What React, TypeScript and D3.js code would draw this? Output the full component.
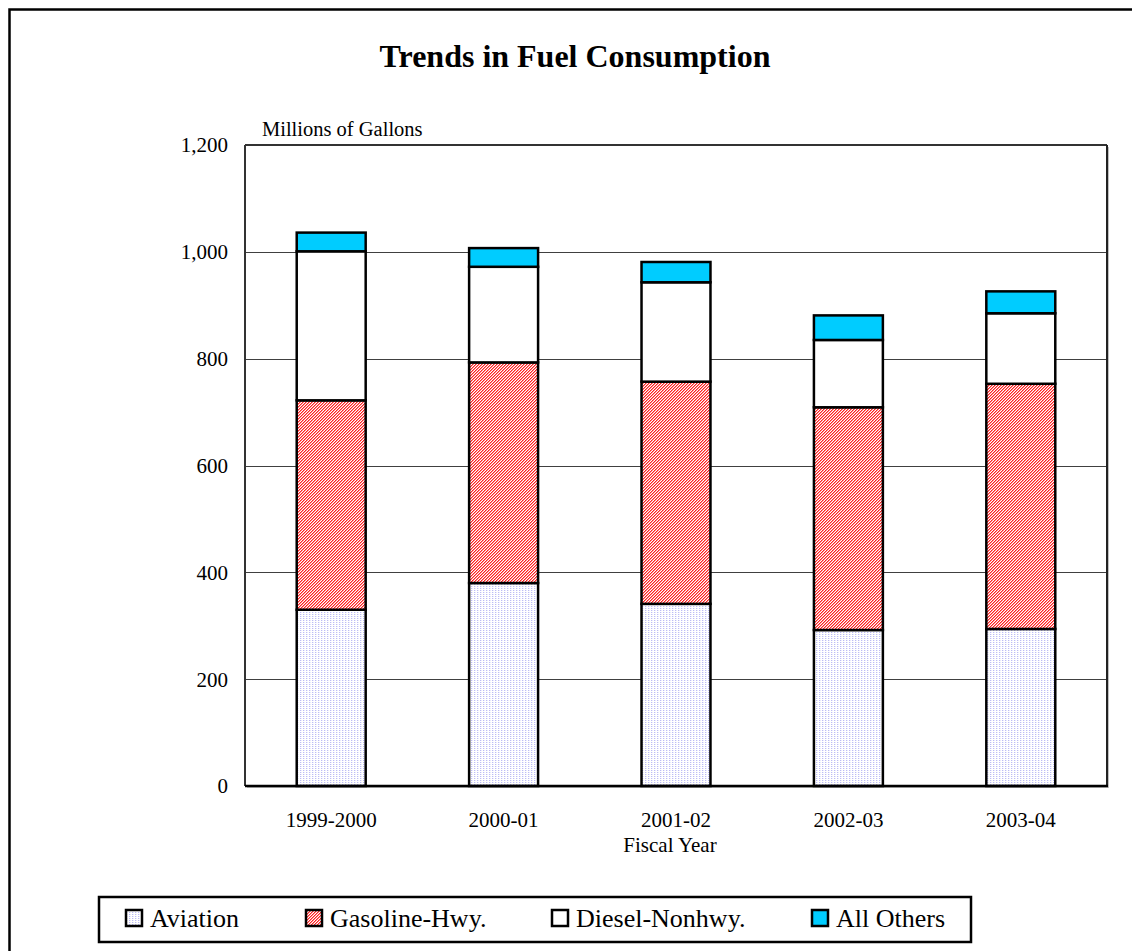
import React from "react";
import * as d3 from "d3";

const categories = ["1999-2000", "2000-01", "2001-02", "2002-03", "2003-04"];
const seriesNames = ["Aviation", "Gasoline-Hwy.", "Diesel-Nonhwy.", "All Others"];
const aviation = [330, 380, 341, 292, 294];
const gasoline = [392, 413, 416, 417, 459];
const diesel = [279, 179, 186, 126, 132];
const allOthers = [35, 35, 38, 46, 41];
const yTicks = [0, 200, 400, 600, 800, 1000, 1200];

const W = 1132;
const H = 951;
const M = { left: 245, right: 1107, top: 145, bottom: 786 };
const FONT = "'Liberation Serif', 'Times New Roman', serif";

const fills = ["url(#patAviation)", "url(#patGas)", "#ffffff", "#00ccff"];

export default function App() {
  const keys = ["aviation", "gasoline", "diesel", "others"];
  const rows = categories.map((c, i) => ({
    cat: c,
    aviation: aviation[i],
    gasoline: gasoline[i],
    diesel: diesel[i],
    others: allOthers[i],
  }));
  const stacked = d3.stack<any>().keys(keys)(rows);
  const x = d3
    .scaleBand<string>()
    .domain(categories)
    .range([M.left, M.right])
    .paddingInner(0.6)
    .paddingOuter(0.3);
  const y = d3.scaleLinear().domain([0, 1200]).range([M.bottom, M.top]);
  const fmt = d3.format(",");

  const gasRed: [number, number][] = [];
  const gasPink: [number, number][] = [];
  for (let r = 0; r < 3; r++) {
    gasRed.push([(2 - r + 3) % 3, r]);
    gasPink.push([(3 - r + 3) % 3, r]);
  }

  const legendX = [125, 305, 551, 811];

  return (
    <svg
      width={W}
      height={H}
      style={{ position: "absolute", left: 0, top: 0, background: "#fff" }}
      fontFamily={FONT}
    >
      <defs>
        <pattern id="patAviation" patternUnits="userSpaceOnUse" width={3} height={2}>
          <rect width={3} height={2} fill="#ffffff" />
          <rect x={0} y={0} width={1} height={1} fill="#bcbcf4" />
          <rect x={1} y={0} width={1} height={1} fill="#eaeafc" />
        </pattern>
        <pattern id="patGas" patternUnits="userSpaceOnUse" width={3} height={3}>
          <rect width={3} height={3} fill="#ffffff" />
          {gasRed.map(([px, py], i) => (
            <rect key={"r" + i} x={px} y={py} width={1} height={1} fill="#ff2020" />
          ))}
          {gasPink.map(([px, py], i) => (
            <rect key={"p" + i} x={px} y={py} width={1} height={1} fill="#ff8a8a" />
          ))}
        </pattern>
      </defs>

      {/* outer frame */}
      <rect x={9.5} y={9.5} width={W + 20} height={H + 20} fill="none" stroke="#000" strokeWidth={2.5} />

      {/* title */}
      <text x={575} y={67} textAnchor="middle" fontSize={32} fontWeight="bold">
        Trends in Fuel Consumption
      </text>

      {/* units label */}
      <text x={262} y={136} fontSize={20.5}>
        Millions of Gallons
      </text>

      {/* plot shadow */}
      <rect x={M.left + 2} y={M.top + 2} width={M.right - M.left} height={M.bottom - M.top} fill="#c0c0c0" />
      <rect x={M.left} y={M.top} width={M.right - M.left} height={M.bottom - M.top} fill="#ffffff" />

      {/* gridlines */}
      {yTicks.slice(1, -1).map((t) => (
        <line key={t} x1={M.left} x2={M.right} y1={Math.round(y(t)) + 0.5} y2={Math.round(y(t)) + 0.5} stroke="#404040" strokeWidth={1} />
      ))}

      {/* bars */}
      {stacked.map((layer, li) => (
        <g key={layer.key}>
          {layer.map((d: any, i: number) => (
            <rect
              key={i}
              x={x(categories[i])!}
              y={y(d[1])}
              width={x.bandwidth()}
              height={y(d[0]) - y(d[1])}
              fill={fills[li]}
              stroke="#000"
              strokeWidth={2.5}
            />
          ))}
        </g>
      ))}

      {/* plot frame */}
      <line x1={M.left} x2={M.left} y1={M.top} y2={M.bottom} stroke="#333" strokeWidth={2} />
      <line x1={M.left} x2={M.right} y1={M.top} y2={M.top} stroke="#333" strokeWidth={2} />
      <line x1={M.right} x2={M.right} y1={M.top} y2={M.bottom} stroke="#222" strokeWidth={2} />
      <line x1={M.left} x2={M.right + 1} y1={M.bottom} y2={M.bottom} stroke="#000" strokeWidth={2.5} />

      {/* y tick labels */}
      {yTicks.map((t) => (
        <text key={t} x={228} y={y(t)} dy="0.35em" textAnchor="end" fontSize={21}>
          {fmt(t)}
        </text>
      ))}

      {/* x labels */}
      {categories.map((c) => (
        <text key={c} x={x(c)! + x.bandwidth() / 2} y={827} textAnchor="middle" fontSize={21}>
          {c}
        </text>
      ))}
      <text x={670} y={852} textAnchor="middle" fontSize={21}>
        Fiscal Year
      </text>

      {/* legend */}
      <rect x={99} y={897} width={872} height={45} fill="#fff" stroke="#000" strokeWidth={2.5} />
      {seriesNames.map((n, i) => (
        <g key={n}>
          <rect x={legendX[i] + 1} y={910} width={16} height={16} fill={fills[i]} stroke="#000" strokeWidth={2.5} />
          <text x={legendX[i] + 25} y={927} fontSize={26}>
            {n}
          </text>
        </g>
      ))}
    </svg>
  );
}
